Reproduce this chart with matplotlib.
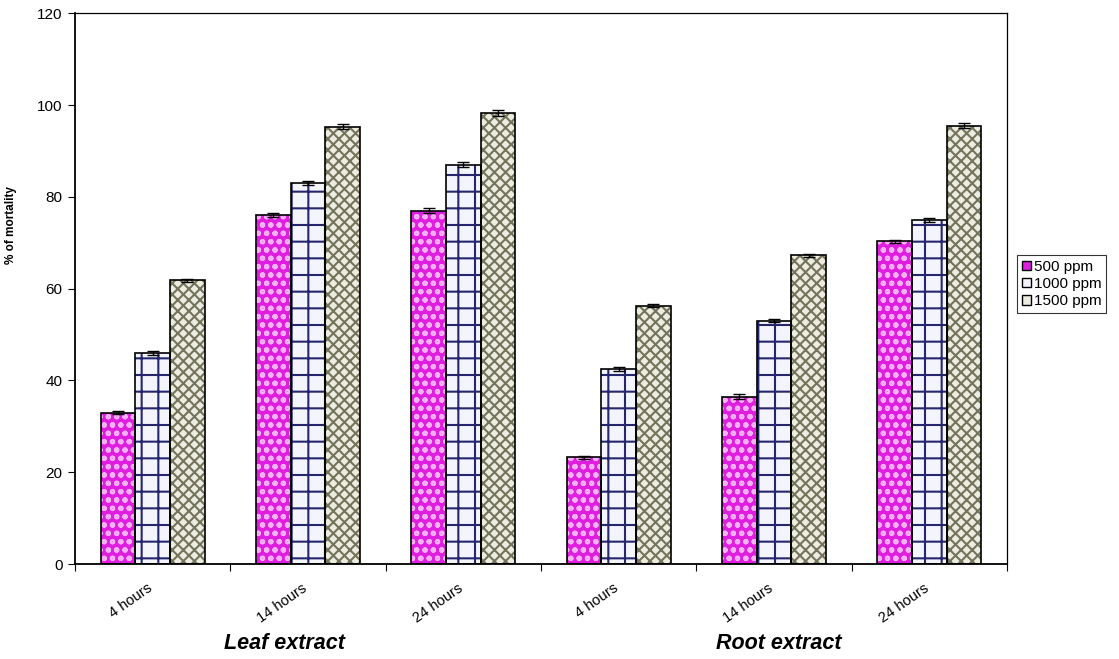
import numpy as np
import matplotlib.pyplot as plt

plt.rcParams['font.family'] = ['Liberation Sans', 'DejaVu Sans']
plt.rcParams['hatch.linewidth'] = 1.5

times = ['4 hours', '14 hours', '24 hours', '4 hours', '14 hours', '24 hours']
groups = ['Leaf extract', 'Root extract']
ppm500 = [33.0, 76.0, 77.0, 23.3, 36.5, 70.3]
ppm1000 = [46.0, 83.0, 87.0, 42.5, 53.0, 75.0]
ppm1500 = [61.8, 95.3, 98.3, 56.3, 67.3, 95.5]
err500 = [0.4, 0.5, 0.5, 0.3, 0.5, 0.3]
err1000 = [0.4, 0.4, 0.6, 0.4, 0.3, 0.4]
err1500 = [0.3, 0.6, 0.6, 0.3, 0.3, 0.5]
labels = ['500 ppm', '1000 ppm', '1500 ppm']

# fill colour, hatch, hatch colour
styles = [('#e01ee0', 'oo', '#f6b0f6'),
          ('#f4f4fc', '+', '#26266e'),
          ('#ecece0', 'xxx', '#74745c')]

fig = plt.figure(figsize=(11.19, 6.59), dpi=100)
ax = fig.add_axes([0.067, 0.144, 0.833, 0.836])

x = np.arange(len(times))
w = 0.223
series = [(ppm500, err500), (ppm1000, err1000), (ppm1500, err1500)]
handles = []
for i, (vals, errs) in enumerate(series):
    fc, hatch, hc = styles[i]
    pos = x + (i - 1) * w
    ax.bar(pos, vals, w, color=fc, edgecolor=hc, hatch=hatch, linewidth=0, zorder=2)
    ax.bar(pos, vals, w, fill=False, edgecolor='black', linewidth=1.2, zorder=3)
    ax.errorbar(pos, vals, yerr=errs, fmt='none', ecolor='black', elinewidth=1,
                capsize=4, capthick=1, zorder=4)
    h = plt.Rectangle((0, 0), 1, 1, facecolor=fc, edgecolor='black', linewidth=1)
    handles.append(h)

ax.set_xlim(-0.5, len(times) - 0.5)
ax.set_ylim(0, 120)
ax.set_yticks(range(0, 121, 20))
ax.tick_params(axis='y', labelsize=11, direction='out', length=5, pad=4)
ax.set_xticks(np.arange(-0.5, len(times), 1.0))
ax.set_xticklabels([])
ax.tick_params(axis='x', direction='out', length=5)
ax.set_xticks(x - 0.04, minor=True)
ax.set_xticklabels(times, minor=True, rotation=35, ha='right', rotation_mode='anchor',
                   fontsize=10.5)
ax.tick_params(axis='x', which='minor', length=0, pad=12)
for s in ax.spines.values():
    s.set_linewidth(0.9)
ax.spines['bottom'].set_linewidth(1.3)
ax.spines['left'].set_linewidth(1.3)

ax.set_ylabel('% of mortality', fontsize=8.5, fontweight='bold')
ax.yaxis.set_label_coords(-0.062, 0.615)

ax.text(0.85, -0.145, groups[0], transform=ax.get_xaxis_transform(), ha='center', va='center',
        fontsize=15.5, fontweight='bold', fontstyle='italic')
ax.text(4.03, -0.145, groups[1], transform=ax.get_xaxis_transform(), ha='center', va='center',
        fontsize=15.5, fontweight='bold', fontstyle='italic')

leg = fig.legend(handles, labels, loc='center left', bbox_to_anchor=(0.909, 0.569),
                 fontsize=11, frameon=True, fancybox=False, edgecolor='black',
                 handlelength=0.6, handleheight=0.6, handletextpad=0.2,
                 borderpad=0.3, labelspacing=0.2, borderaxespad=0)
leg.get_frame().set_linewidth(0.8)

fig.savefig('out.png', dpi=100)
